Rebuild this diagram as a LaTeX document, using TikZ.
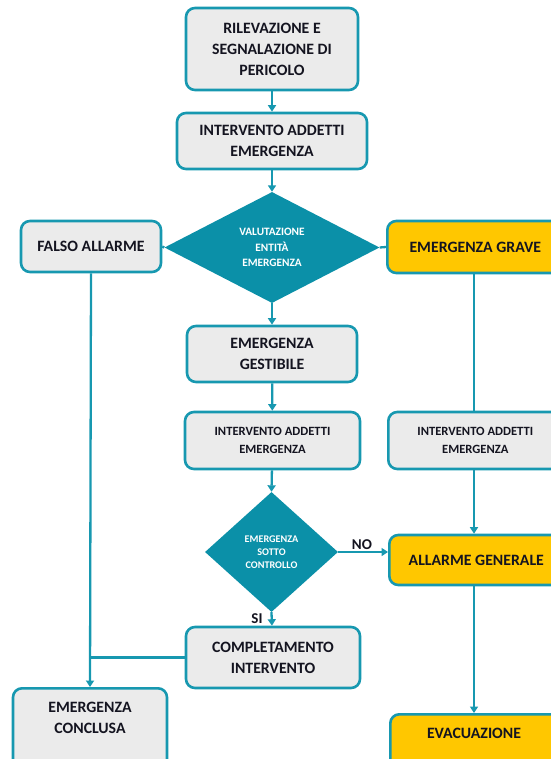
\documentclass[tikz,border=0pt]{standalone}
\usepackage{fontspec}
\setmainfont{Carlito}
\usetikzlibrary{shapes.geometric,arrows.meta}
\definecolor{teal1}{HTML}{1798B0}
\definecolor{tealfill}{HTML}{0B90A8}
\definecolor{boxgrey}{HTML}{EBEBEB}
\definecolor{gold}{HTML}{FFC700}
\definecolor{ink}{HTML}{141420}
\tikzset{
  box/.style={draw=teal1, line width=2.6pt, rounded corners=9pt, fill=boxgrey,
    align=center, inner sep=0pt, font=\bfseries\fontsize{15.8}{21}\selectfont, text=ink},
  smallbox/.style={box, font=\bfseries\fontsize{12.6}{17.5}\selectfont},
  goldbox/.style={box, fill=gold},
  dia/.style={diamond, fill=tealfill, draw=none, inner sep=0pt, aspect=2, align=center,
    text=white, font=\bfseries\fontsize{11.3}{15.5}\selectfont},
  conn/.style={draw=teal1, line width=2.3pt},
  arr/.style={conn, -{Triangle[width=8pt,length=6.5pt]}},
  lbl/.style={font=\bfseries\fontsize{15}{17}\selectfont, text=ink, inner sep=0pt}
}
\begin{document}
\begin{tikzpicture}[x=1pt,y=-1pt]
\useasboundingbox (0,0) rectangle (550,759);
% nodes
\node[box, minimum width=172, minimum height=82] (b1) at (272,49) {RILEVAZIONE E\\SEGNALAZIONE DI\\PERICOLO};
\node[box, minimum width=190, minimum height=56] (b2) at (272,141) {INTERVENTO ADDETTI\\EMERGENZA};
\node[dia, minimum width=215, minimum height=111] (d1) at (272,247.5) {VALUTAZIONE\\ENTITÀ\\EMERGENZA};
\node[box, minimum width=140, minimum height=51] (falso) at (91,246.5) {FALSO ALLARME};
\node[goldbox, minimum width=176, minimum height=52, anchor=west] (grave) at (386,247) {EMERGENZA GRAVE};
\node[box, minimum width=170, minimum height=56] (gest) at (272,354) {EMERGENZA\\GESTIBILE};
\node[smallbox, minimum width=175, minimum height=57] (int2) at (272.5,440.5) {INTERVENTO ADDETTI\\EMERGENZA};
\node[smallbox, minimum width=174, minimum height=57, anchor=west] (int3) at (387,440.5) {INTERVENTO ADDETTI\\EMERGENZA};
\node[dia, aspect=1, minimum width=133, minimum height=120, font=\bfseries\fontsize{10.2}{13}\selectfont] (d2) at (271.5,552) {EMERGENZA\\SOTTO\\CONTROLLO};
\node[goldbox, minimum width=174, minimum height=50, anchor=west] (allarme) at (388,560) {ALLARME GENERALE};
\node[box, minimum width=174, minimum height=61] (compl) at (273,657.5) {COMPLETAMENTO\\INTERVENTO};
\node[box, minimum width=154, minimum height=80, anchor=north] (concl) at (90,687) {};
\node[align=center, inner sep=0pt, font=\bfseries\fontsize{15.8}{21}\selectfont, text=ink] (conclt) at (90,718) {EMERGENZA\\CONCLUSA};
\node[goldbox, minimum width=172, minimum height=60, anchor=north west] (evac) at (389,713) {};
\node[inner sep=0pt, font=\bfseries\fontsize{15.8}{21}\selectfont, text=ink] (evact) at (474,733) {EVACUAZIONE};
% connectors
\draw[arr] (b1) -- (b2);
\draw[arr] (b2) -- (d1.north);
\draw[conn] (d1.west) -- (falso.east);
\draw[conn] (d1.east) -- (grave.west);
\draw[arr] (d1.south) -- (gest);
\draw[arr] (gest) -- (int2);
\draw[arr] (int2) -- (d2.north);
\coordinate (noend) at (allarme.west |- d2.east);
\draw[arr] (d2.east) -- (noend);
\node[lbl] (no) at (362,545) {NO};
\draw[arr] (d2.south) -- (compl);
\node[lbl] (si) at (257,619) {SI};
\coordinate (fx) at (falso.south);
\draw[arr] (falso.south) -- (concl.north);
\coordinate (junc) at (fx |- compl.west);
\draw[conn] (compl.west) -- (junc);
\coordinate (gx) at (474,273);
\draw[conn] (grave.south -| gx) -- (int3.north -| gx);
\draw[arr] (int3.south -| gx) -- (allarme.north -| gx);
\draw[arr] (allarme.south -| gx) -- (evac.north -| gx);
\end{tikzpicture}
\end{document}
